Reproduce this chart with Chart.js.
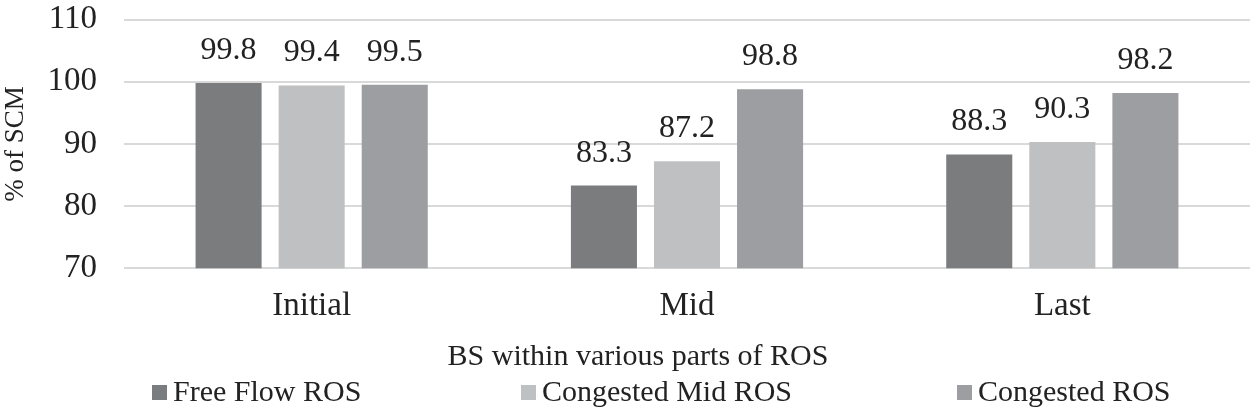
<!DOCTYPE html>
<html>
<head>
<meta charset="utf-8">
<script src="https://cdn.jsdelivr.net/npm/chart.js@4/dist/chart.umd.min.js"></script>
<style>
  html, body { margin: 0; padding: 0; background: #ffffff; }
  #wrap { width: 1250px; height: 409px; }
</style>
</head>
<body>
<div id="wrap"><canvas id="c" width="1250" height="409"></canvas></div>
<script>
const categories = ["Initial", "Mid", "Last"];
const seriesNames = ["Free Flow ROS", "Congested Mid ROS", "Congested ROS"];
const freeFlow = [99.8, 83.3, 88.3];
const congestedMid = [99.4, 87.2, 90.3];
const congested = [99.5, 98.8, 98.2];
const yTicks = [70, 80, 90, 100, 110];
const xTitle = "BS within various parts of ROS";
const yTitle = "% of SCM";

const colors = ["#7b7c7e", "#bfc0c2", "#9d9ea1"];
const FONT = "'Liberation Serif', 'Times New Roman', serif";
const TEXT = "#222222";

const valueLabels = {
  id: 'valueLabels',
  afterDatasetsDraw(chart) {
    const ctx = chart.ctx;
    ctx.save();
    ctx.font = "32px " + FONT;
    ctx.fillStyle = TEXT;
    ctx.textAlign = "center";
    ctx.textBaseline = "alphabetic";
    chart.data.datasets.forEach((ds, di) => {
      const meta = chart.getDatasetMeta(di);
      meta.data.forEach((bar, i) => {
        ctx.fillText(ds.data[i].toFixed(1), bar.x, bar.y - 24);
      });
    });
    ctx.restore();
  }
};

const bottomTexts = {
  id: 'bottomTexts',
  afterDraw(chart) {
    const ctx = chart.ctx;
    ctx.save();
    ctx.fillStyle = TEXT;
    ctx.textBaseline = "alphabetic";
    ctx.font = "30px " + FONT;
    ctx.textAlign = "center";
    ctx.fillText(xTitle, 638, 365);
    const starts = [152, 521, 957];
    ctx.textAlign = "left";
    chart.data.datasets.forEach((ds, i) => {
      const x = starts[i];
      ctx.fillStyle = ds.backgroundColor;
      ctx.fillRect(x, 385, 15, 15);
      ctx.fillStyle = TEXT;
      ctx.fillText(ds.label, x + 21, 401);
    });
    ctx.restore();
  }
};

new Chart(document.getElementById("c"), {
  type: "bar",
  data: {
    labels: categories,
    datasets: [
      { label: seriesNames[0], data: freeFlow, backgroundColor: colors[0] },
      { label: seriesNames[1], data: congestedMid, backgroundColor: colors[1] },
      { label: seriesNames[2], data: congested, backgroundColor: colors[2] }
    ]
  },
  options: {
    responsive: false,
    animation: false,
    devicePixelRatio: 1,
    layout: { padding: { top: 0, right: 0, bottom: 0, left: 0 } },
    datasets: {
      bar: { barPercentage: 0.795, categoryPercentage: 0.664, borderWidth: 0 }
    },
    plugins: {
      legend: { display: false },
      tooltip: { enabled: false }
    },
    scales: {
      x: {
        grid: { display: false, drawTicks: false },
        border: { display: false },
        ticks: { color: TEXT, font: { family: FONT, size: 33 }, padding: 18 },
        afterFit(scale) {
          scale.height = 140.7;
          scale.paddingLeft = 0; scale.paddingRight = 0;
        }
      },
      y: {
        min: 70,
        max: 110,
        afterBuildTicks(scale) { scale.ticks = yTicks.map(v => ({ value: v })); },
        grid: { color: "#d9d9d9", lineWidth: 2, drawTicks: false },
        border: { display: false },
        ticks: { color: TEXT, font: { family: FONT, size: 33 }, padding: 27 },
        title: { display: true, text: yTitle, color: TEXT, font: { family: FONT, size: 27 }, padding: { top: 0, bottom: 0 } },
        afterFit(scale) {
          scale.width = 124;
          scale.paddingTop = 19.5; scale.paddingBottom = 0;
        }
      }
    }
  },
  plugins: [valueLabels, bottomTexts]
});
</script>
</body>
</html>
